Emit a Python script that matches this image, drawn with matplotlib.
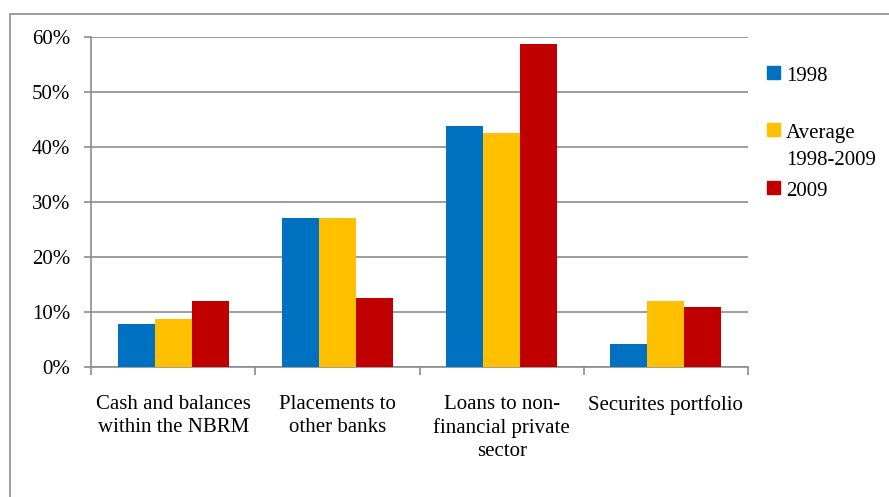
import numpy as np
import matplotlib
matplotlib.use('Agg')
import matplotlib.pyplot as plt
from matplotlib.patches import Rectangle

plt.rcParams['font.family'] = ['Liberation Serif', 'DejaVu Serif']

# categories and series (shares, %)
categories = ['Cash and balances\nwithin the NBRM', 'Placements to\nother banks',
              'Loans to non-\nfinancial private\nsector', 'Securites portfolio']
series_names = ['1998', 'Average\n1998-2009', '2009']
vals_1998 = [7.8, 27.1, 43.9, 4.2]
vals_avg = [8.7, 27.1, 42.5, 12.0]
vals_2009 = [12.0, 12.5, 58.7, 10.9]
colors = ['#0070C0', '#FFC000', '#C00000']
yticks = [0, 10, 20, 30, 40, 50, 60]

W, H = 889, 497
FS = 15
fig = plt.figure(figsize=(W / 100, H / 100), dpi=100)
ax = fig.add_axes([91 / W, 1 - 367 / H, (748 - 91) / W, (367 - 37) / H])

# outer chart border (runs off the right and bottom edges)
fig.patches.append(Rectangle((10 / W, -0.05), 1.1, 1 - 14 / H + 0.05,
                             transform=fig.transFigure, fill=False,
                             edgecolor='#8c8c8c', linewidth=1.2))

x = np.arange(len(categories))
w = 0.225
for i, (vals, c) in enumerate(zip([vals_1998, vals_avg, vals_2009], colors)):
    ax.bar(x + (i - 1) * w, vals, width=w, color=c, zorder=3)

ax.set_xlim(-0.5, len(categories) - 0.5)
ax.set_ylim(0, 60)
ax.set_yticks(yticks)
ax.set_yticklabels([f'{t}%' for t in yticks], fontsize=FS)
ax.yaxis.grid(True, color='#8c8c8c', linewidth=1.2, zorder=0)

ax.set_xticks(x)
ax.set_xticklabels(categories, fontsize=FS, linespacing=1.28, va='top')
ax.set_xticks(np.arange(len(categories) + 1) - 0.5, minor=True)
ax.tick_params(axis='x', which='major', length=0, pad=20)
ax.tick_params(axis='x', which='minor', length=6, color='#8c8c8c', width=1.2)
ax.tick_params(axis='y', length=5, color='#8c8c8c', width=1.2, pad=10)

for s in ['top', 'right']:
    ax.spines[s].set_visible(False)
for s in ['left', 'bottom']:
    ax.spines[s].set_color('#8c8c8c')
    ax.spines[s].set_linewidth(1.2)

# legend drawn by hand so the square sits on the first line
leg_sq = [72, 129, 187]
leg_base = [81, 138, 196]
for name, c, yy, yb in zip(series_names, colors, leg_sq, leg_base):
    fig.patches.append(Rectangle((767 / W, 1 - (yy + 6.5) / H), 13 / W, 13 / H,
                                 transform=fig.transFigure, color=c))
    lines = name.split('\n')
    for k, line in enumerate(lines):
        fig.text(786 / W, 1 - (yb + k * 27) / H, line, fontsize=FS,
                 va='baseline', ha='left')

fig.savefig('out.png', dpi=100)
